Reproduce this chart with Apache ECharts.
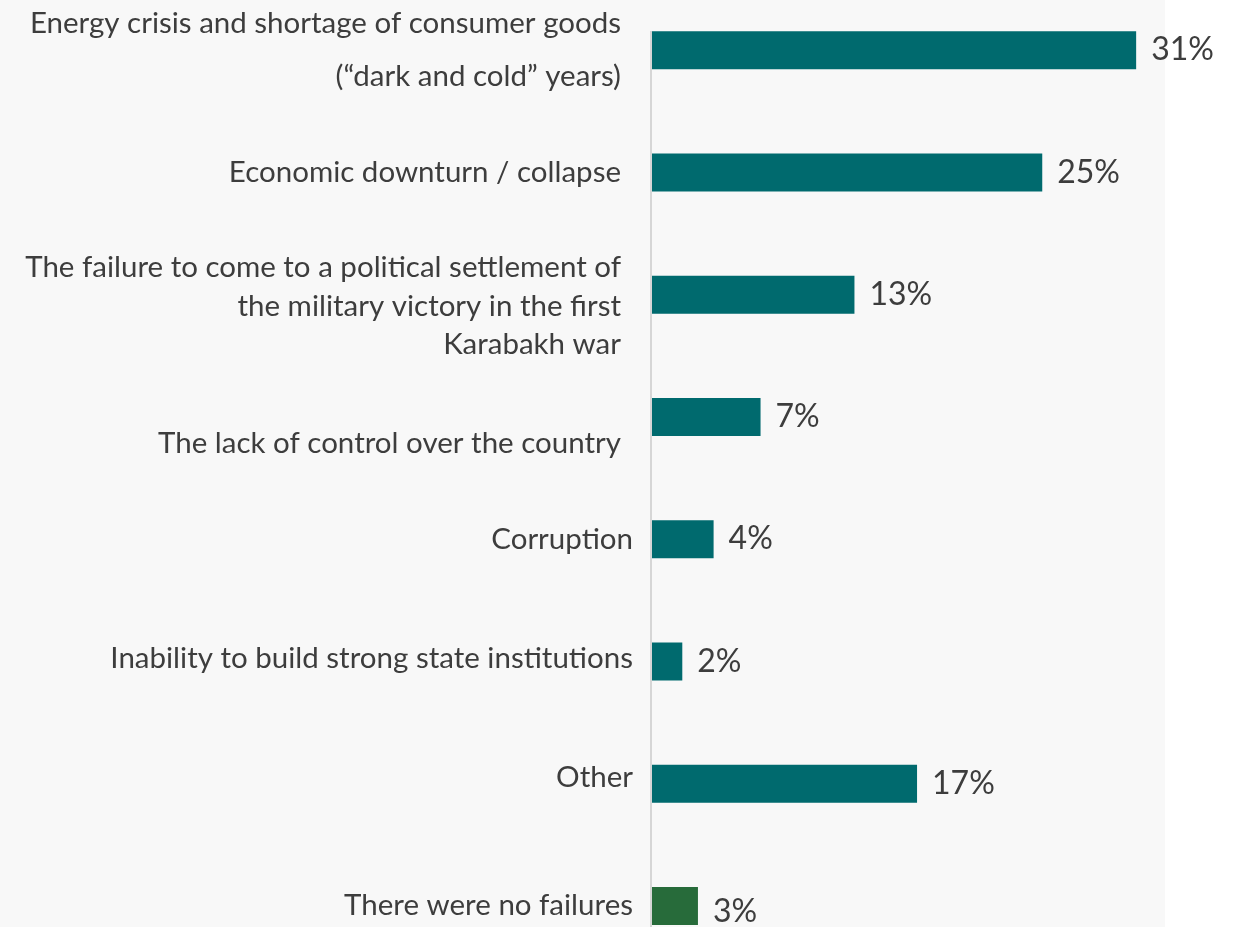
<!DOCTYPE html>
<html>
<head>
<meta charset="utf-8">
<script src="https://cdn.jsdelivr.net/npm/echarts@6/dist/echarts.min.js"></script>
<style>
  html, body { margin: 0; padding: 0; background: #ffffff; }
  #chart { width: 1234px; height: 927px; background: linear-gradient(to right, #f8f8f8 0, #f8f8f8 1165px, #ffffff 1165px); }
</style>
</head>
<body>
<div id="chart"></div>
<script>
// ---- data ----
const categories = [
  'Energy crisis and shortage of consumer goods\n(\u201cdark and cold\u201d years)',
  'Economic downturn / collapse',
  'The failure to come to a political settlement of\nthe military victory in the first\nKarabakh war',
  'The lack of control over the country',
  'Corruption',
  'Inability to build strong state institutions',
  'Other',
  'There were no failures'
];
const values = [31, 25, 13, 7, 4, 2, 17, 3];
const highlighted = [false, false, false, false, false, false, false, true];

// ---- styles ----
const TEAL = '#006a6e';
const GREEN = '#276b3a';
const TEXT = '#3d3d3d';
const FONT = 'Lato, "Open Sans", sans-serif';
const CAT_SIZE = 29.5;
const base = { fontFamily: FONT, fontSize: CAT_SIZE, color: TEXT };
// rich styles per label: [first-line style, other-lines style]
const rich = {
  t0: Object.assign({ lineHeight: 53, padding: [0, 12, 0, 0] }, base),
  t1: Object.assign({ padding: [0, 12, 0, 0] }, base),
  t2a: Object.assign({ lineHeight: 62, verticalAlign: 'bottom', padding: [0, 12, 5, 0] }, base),
  t2b: Object.assign({ lineHeight: 38, padding: [0, 12, 0, 0] }, base),
  t3: Object.assign({ padding: [54, 12, 0, 0] }, base),
  t4: Object.assign({}, base),
  t5: Object.assign({ padding: [0, 0, 6, 0] }, base),
  t6: Object.assign({ padding: [0, 0, 12, 0] }, base),
  t7: Object.assign({}, base)
};
const lineStyles = [['t0', 't0'], ['t1', 't1'], ['t2a', 't2b'], ['t3', 't3'], ['t4', 't4'], ['t5', 't5'], ['t6', 't6'], ['t7', 't7']];

function formatLabel(value, index) {
  const st = lineStyles[index];
  return value.split('\n').map((ln, k) => '{' + (k === 0 ? st[0] : st[1]) + '|' + ln + '}').join('\n');
}

const chart = echarts.init(document.getElementById('chart'), null, { renderer: 'canvas' });
chart.setOption({
  backgroundColor: 'transparent',
  animation: false,
  grid: { left: 651, right: 35.25, top: -11, height: 978, outerBoundsMode: 'none', containLabel: false },
  xAxis: { type: 'value', min: 0, max: 35, show: false },
  yAxis: {
    type: 'category',
    inverse: true,
    data: categories,
    axisLine: { show: false },
    axisTick: { show: false },
    axisLabel: {
      margin: 18,
      fontFamily: FONT,
      fontSize: CAT_SIZE,
      color: TEXT,
      align: 'right',
      verticalAlign: 'middle',
      interval: 0,
      formatter: formatLabel,
      rich: rich
    }
  },
  graphic: [{
    type: 'line',
    shape: { x1: 651, y1: 31, x2: 651, y2: 927 },
    style: { stroke: '#d6d6d6', lineWidth: 2 },
    z: 10
  }],
  series: [{
    type: 'bar',
    data: values.map((v, i) => highlighted[i] ? { value: v, label: { offset: [0, 6] } } : v),
    barWidth: 38,
    itemStyle: { color: p => highlighted[p.dataIndex] ? GREEN : TEAL },
    label: {
      show: true,
      position: 'right',
      distance: 15,
      formatter: p => p.value + '%',
      fontFamily: FONT,
      fontSize: 32,
      color: TEXT
    }
  }]
});
</script>
</body>
</html>
